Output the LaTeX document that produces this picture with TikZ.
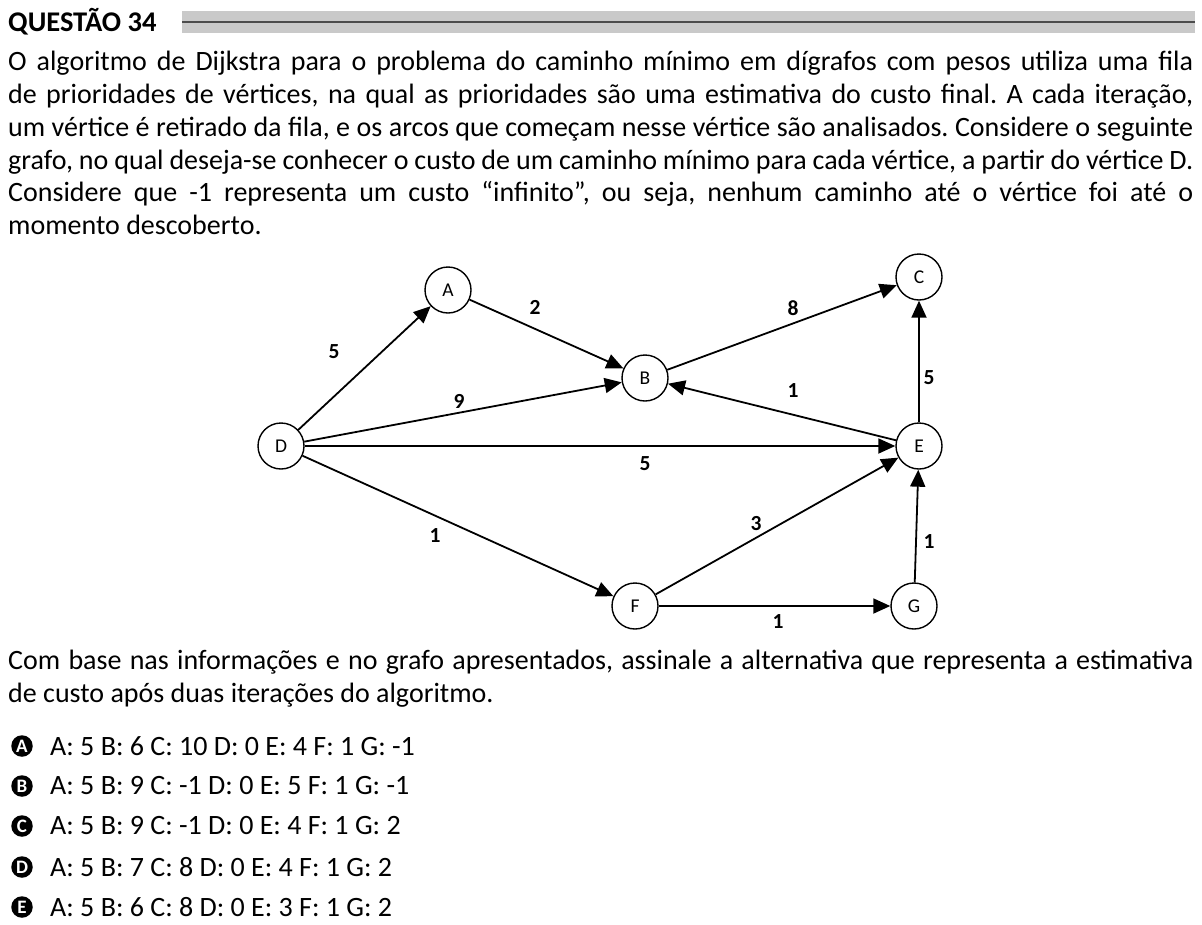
\documentclass[tikz,border=0pt]{standalone}
\usepackage{fontspec}
\setmainfont{Carlito}
\usetikzlibrary{arrows.meta}
\frenchspacing

\tikzstyle{vertex}=[circle,draw,line width=1.4pt,minimum size=46pt,inner sep=0pt,font=\fontsize{19.5}{19.5}\selectfont]
\tikzstyle{weight}=[inner sep=1pt,font=\bfseries\fontsize{21.5}{21.5}\selectfont]
\tikzstyle{arc}=[-{Triangle[length=17pt,width=15pt]},line width=1.8pt]
\tikzstyle{letter}=[circle,fill=black,minimum size=21.5pt,inner sep=0pt,text=white,font=\bfseries\fontsize{19}{19}\selectfont]
\tikzstyle{option}=[anchor=west,inner sep=0pt,font=\fontsize{28}{33}\selectfont]

\begin{document}
\begin{tikzpicture}[x=1pt,y=-1pt]
			\useasboundingbox (0,0) rectangle (1202,924);
			%Heading and bar
			\node[anchor=west,inner sep=0pt,font=\bfseries\fontsize{28.5}{28.5}\selectfont] (title) at (8,21.5) {QUESTÃO 34};
			\fill[black!21] (182,11) rectangle (1195,33);
			\draw[black!70,line width=2pt] (182,21.5) -- (1195,21.5);
			%Statement
			\node[anchor=north west,inner sep=0pt,text width=1185pt,align=justify,font=\fontsize{28}{32.8}\selectfont] (statement) at (8,51)
			{\hyphenpenalty=10000 O algoritmo de Dijkstra para o problema do caminho mínimo em dígrafos com pesos utiliza uma fila\linebreak
			de prioridades de vértices, na qual as prioridades são uma estimativa do custo final. A cada iteração,\linebreak
			um vértice é retirado da fila, e os arcos que começam nesse vértice são analisados. Considere o seguinte\linebreak
			grafo, no qual deseja-se conhecer o custo de um caminho mínimo para cada vértice, a partir do vértice D.\linebreak
			Considere que -1 representa um custo “infinito”, ou seja, nenhum caminho até o vértice foi até o\linebreak
			momento descoberto.};
			%Adding the vertices
			\foreach \pos/\name in 	{{(448,290)/A},	{(645,378)/B},	{(919,277)/C},	{(281,446)/D},
									 {(919,446)/E},	{(635,606)/F},	{(914,606)/G}}
			\node[vertex] (\name) at \pos {\name};
			%Adding the arcs
			\foreach \from/\to in 	{D/A,	A/B,	D/B,	D/E,	D/F,	B/C,
									 E/B,	E/C,	F/E,	F/G,	G/E}
			\draw[arc] (\from) -- (\to);
			%Adding the weights
			\foreach \pos/\name/\w in 	{{(334,352)/wda/5},	{(535,307)/wab/2},	{(459,401)/wdb/9},	{(645,464)/wde/5},
										 {(435,536)/wdf/1},	{(793,308)/wbc/8},	{(793,391)/web/1},	{(929,378)/wec/5},
										 {(756,524)/wfe/3},	{(929,542)/wge/1},	{(778,622)/wfg/1}}
			\node[weight] (\name) at \pos {\w};
			%Question
			\node[anchor=north west,inner sep=0pt,text width=1185pt,align=justify,font=\fontsize{28}{32.8}\selectfont] (question) at (8,650)
			{\hyphenpenalty=10000 Com base nas informações e no grafo apresentados, assinale a alternativa que representa a estimativa\linebreak
			de custo após duas iterações do algoritmo.};
			%Adding the alternatives
			\foreach \y/\name/\txt in 	{746/A/{A: 5 B: 6 C: 10 D: 0 E: 4 F: 1 G: -1},
										 786/B/{A: 5 B: 9 C: -1 D: 0 E: 5 F: 1 G: -1},
										 826/C/{A: 5 B: 9 C: -1 D: 0 E: 4 F: 1 G: 2},
										 867/D/{A: 5 B: 7 C: 8 D: 0 E: 4 F: 1 G: 2},
										 907/E/{A: 5 B: 6 C: 8 D: 0 E: 3 F: 1 G: 2}}
			{
			\node[letter] (mark\name) at (22,\y) {\name};
			\node[option] (alt\name) at (50,\y) {\txt};
			}
		\end{tikzpicture}
\end{document}
